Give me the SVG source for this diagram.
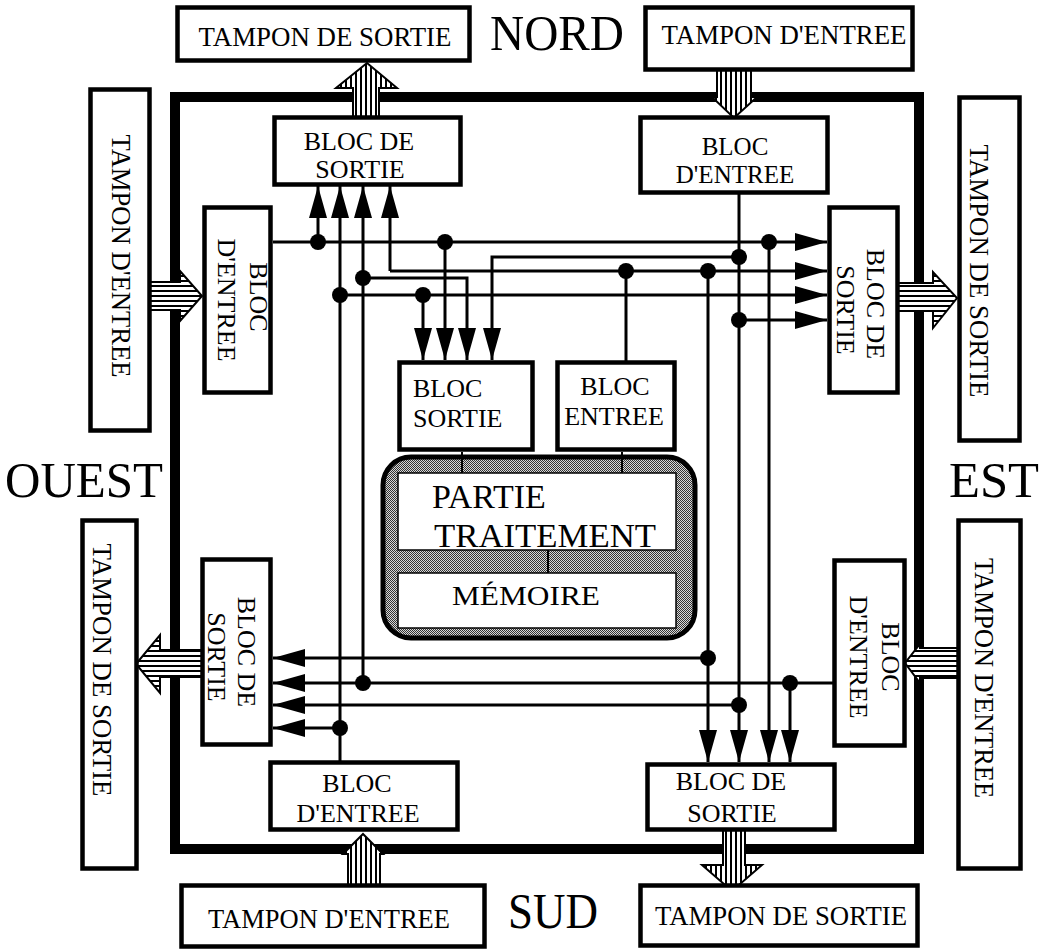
<svg xmlns="http://www.w3.org/2000/svg" width="1044" height="950" viewBox="0 0 1044 950">
<style>
.t{font-family:"Liberation Serif","Times New Roman",serif;fill:#000}
.f27{font-size:27px}
.f26{font-size:26px}
.big{font-size:50px}
.box{fill:#fff;stroke:#000;stroke-width:4.5}
.w{fill:none;stroke:#000;stroke-width:3}
.wa{fill:none;stroke:#000;stroke-width:3;marker-end:url(#ah)}
.dot{fill:#000}
.bv{fill:url(#vs);stroke:#000;stroke-width:2}
.bh{fill:url(#hs);stroke:#000;stroke-width:2}
</style>
<defs>
<marker id="ah" markerWidth="32" markerHeight="18" refX="32" refY="9" orient="auto" markerUnits="userSpaceOnUse"><path d="M0,0 L32,9 L0,18 Z" fill="#000"/></marker>
<pattern id="vs" width="5" height="10" patternUnits="userSpaceOnUse"><rect width="5" height="10" fill="#fff"/><rect width="2" height="10" fill="#000"/></pattern>
<pattern id="hs" width="10" height="5" patternUnits="userSpaceOnUse"><rect width="10" height="5" fill="#fff"/><rect width="10" height="2" fill="#000"/></pattern>
<pattern id="stip" width="2" height="2" patternUnits="userSpaceOnUse"><rect width="2" height="2" fill="#d8d8d8"/><rect width="1" height="1" fill="#333"/><rect x="1" y="1" width="1" height="1" fill="#333"/></pattern>
</defs>
<rect width="1044" height="950" fill="#fff"/>

<g id="frame"><rect x="175" y="97" width="744" height="752" fill="none" stroke="#000" stroke-width="10"/></g>

<g id="labels">
<text class="t big" x="490" y="50" textLength="134" lengthAdjust="spacingAndGlyphs">NORD</text>
<text class="t big" x="5" y="497" textLength="158" lengthAdjust="spacingAndGlyphs">OUEST</text>
<text class="t big" x="949" y="497" textLength="90" lengthAdjust="spacingAndGlyphs">EST</text>
<text class="t big" x="508" y="928" textLength="90" lengthAdjust="spacingAndGlyphs">SUD</text>
</g>

<g id="broad-arrows">
<polygon class="bv" points="353,117 353,88 336,88 367,63 397,88 379,88 379,117"/>
<polygon class="bv" points="717,70 717,97 712,97 734,118 757,97 751,97 751,70"/>
<polygon class="bh" points="150,282 180,282 180,271 202,296 180,321 180,310 150,310"/>
<polygon class="bh" points="898,283 933,283 933,272 957,298 933,328 933,311 898,311"/>
<polygon class="bh" points="202,650 160,650 160,635 136,664 160,693 160,677 202,677"/>
<polygon class="bh" points="958,648 920,648 920,644 905,663 920,683 920,678 958,678"/>
<polygon class="bv" points="348,885 348,854 343,854 363,834 383,854 380,854 380,885"/>
<polygon class="bv" points="723,830 723,865 702,865 732,891 762,865 745,865 745,830"/>
</g>

<g id="tampon-n-sortie"><rect class="box" x="177.5" y="7.5" width="292" height="53"/><text class="t f27" x="325" y="46" text-anchor="middle" textLength="253" lengthAdjust="spacingAndGlyphs">TAMPON DE SORTIE</text></g>
<g id="tampon-n-entree"><rect class="box" x="645.5" y="7.5" width="267" height="62"/><text class="t f27" x="784" y="44" text-anchor="middle" textLength="245" lengthAdjust="spacingAndGlyphs">TAMPON D'ENTREE</text></g>
<g id="tampon-o-entree"><rect class="box" x="90.5" y="89.5" width="59" height="341"/><text class="t f27" transform="translate(112,256) rotate(90)" text-anchor="middle" textLength="243" lengthAdjust="spacingAndGlyphs">TAMPON D'ENTREE</text></g>
<g id="tampon-e-sortie"><rect class="box" x="959.5" y="97.5" width="60" height="343"/><text class="t f27" transform="translate(970,271) rotate(90)" text-anchor="middle" textLength="253" lengthAdjust="spacingAndGlyphs">TAMPON DE SORTIE</text></g>
<g id="tampon-o-sortie"><rect class="box" x="82.5" y="520.5" width="54" height="348"/><text class="t f27" transform="translate(93,670) rotate(90)" text-anchor="middle" textLength="253" lengthAdjust="spacingAndGlyphs">TAMPON DE SORTIE</text></g>
<g id="tampon-e-entree"><rect class="box" x="958.5" y="520.5" width="62" height="348"/><text class="t f27" transform="translate(975,678) rotate(90)" text-anchor="middle" textLength="240" lengthAdjust="spacingAndGlyphs">TAMPON D'ENTREE</text></g>
<g id="tampon-s-entree"><rect class="box" x="181.5" y="885.5" width="303" height="61"/><text class="t f27" x="329" y="928" text-anchor="middle" textLength="242" lengthAdjust="spacingAndGlyphs">TAMPON D'ENTREE</text></g>
<g id="tampon-s-sortie"><rect class="box" x="640.5" y="885.5" width="277" height="60"/><text class="t f27" x="781" y="925" text-anchor="middle" textLength="252" lengthAdjust="spacingAndGlyphs">TAMPON DE SORTIE</text></g>

<g id="bloc-n-sortie"><rect class="box" x="274.5" y="117.5" width="186" height="67"/><text class="t f26" x="359" y="150" text-anchor="middle">BLOC DE</text><text class="t f26" x="360" y="178" text-anchor="middle">SORTIE</text></g>
<g id="bloc-n-entree"><rect class="box" x="640.5" y="117.5" width="187" height="75"/><text class="t" style="font-size:25px" x="735" y="155" text-anchor="middle">BLOC</text><text class="t" style="font-size:25px" x="735" y="183" text-anchor="middle">D'ENTREE</text></g>
<g id="bloc-o-entree"><rect class="box" x="204.5" y="207.5" width="66" height="185"/><text class="t f26" transform="translate(250,297) rotate(90)" text-anchor="middle">BLOC</text><text class="t f26" transform="translate(218,300) rotate(90)" text-anchor="middle">D'ENTREE</text></g>
<g id="bloc-e-sortie"><rect class="box" x="829.5" y="207.5" width="68" height="185"/><text class="t f26" transform="translate(867,304) rotate(90)" text-anchor="middle">BLOC DE</text><text class="t f26" transform="translate(837,310) rotate(90)" text-anchor="middle">SORTIE</text></g>
<g id="bloc-o-sortie"><rect class="box" x="202.5" y="559.5" width="68" height="185"/><text class="t f26" transform="translate(238,652) rotate(90)" text-anchor="middle">BLOC DE</text><text class="t f26" transform="translate(208,657) rotate(90)" text-anchor="middle">SORTIE</text></g>
<g id="bloc-e-entree"><rect class="box" x="834.5" y="560.5" width="70" height="185"/><text class="t f26" transform="translate(882,657) rotate(90)" text-anchor="middle">BLOC</text><text class="t f26" transform="translate(850,657) rotate(90)" text-anchor="middle">D'ENTREE</text></g>
<g id="bloc-s-entree"><rect class="box" x="270.5" y="762.5" width="187" height="67"/><text class="t f26" x="357" y="792" text-anchor="middle">BLOC</text><text class="t f26" x="358" y="822" text-anchor="middle">D'ENTREE</text></g>
<g id="bloc-s-sortie"><rect class="box" x="647.5" y="764.5" width="187" height="65"/><text class="t f26" x="731" y="790" text-anchor="middle">BLOC DE</text><text class="t f26" x="732" y="822" text-anchor="middle">SORTIE</text></g>

<g id="processeur">
<rect x="383" y="457" width="312" height="181" rx="28" fill="url(#stip)" stroke="#000" stroke-width="5"/>
<rect x="398" y="473" width="278" height="77" fill="#fff" stroke="#000" stroke-width="1.5"/>
<rect x="398" y="573" width="278" height="55" fill="#fff" stroke="#000" stroke-width="1.5"/>
<line x1="548" y1="550" x2="548" y2="573" stroke="#000" stroke-width="2"/>
<text class="t" style="font-size:34px" x="432" y="508">PARTIE</text>
<text class="t" style="font-size:34px" x="434" y="547" textLength="222" lengthAdjust="spacingAndGlyphs">TRAITEMENT</text>
<text class="t" style="font-size:28px" x="526" y="605" text-anchor="middle" textLength="148" lengthAdjust="spacingAndGlyphs">MÉMOIRE</text>
</g>
<g id="bloc-sortie"><rect class="box" x="399.5" y="362.5" width="133" height="87"/><text class="t f26" x="413" y="397">BLOC</text><text class="t f26" x="413" y="427">SORTIE</text></g>
<g id="bloc-entree"><rect class="box" x="557.5" y="362.5" width="117" height="87"/><text class="t f26" x="615" y="395" text-anchor="middle">BLOC</text><text class="t f26" x="614" y="425" text-anchor="middle">ENTREE</text></g>

<g id="connectors">
<line x1="462" y1="452" x2="462" y2="473" stroke="#000" stroke-width="2"/>
<line x1="622" y1="452" x2="622" y2="473" stroke="#000" stroke-width="2"/>
<path class="wa" d="M273,242 H827"/>
<path class="wa" d="M318,242 V186"/>
<path class="wa" d="M445,242 V360"/>
<path class="wa" d="M769,242 V762"/>
<path class="wa" d="M340,762 V186"/>
<path class="wa" d="M340,295 H827"/>
<path class="wa" d="M423,295 V360"/>
<path class="wa" d="M340,728 H273"/>
<path class="wa" d="M834,683 H273"/>
<path class="wa" d="M363,683 V186"/>
<path class="wa" d="M363,278 H467 V360"/>
<path class="wa" d="M790,683 V762"/>
<path class="wa" d="M739,194 V762"/>
<path class="wa" d="M739,257 H492 V360"/>
<path class="wa" d="M739,320 H827"/>
<path class="wa" d="M739,705 H273"/>
<path class="w" d="M626,362 V271"/>
<path class="wa" d="M390,271 H827"/>
<path class="wa" d="M390,271 V186"/>
<path class="wa" d="M708,271 V762"/>
<path class="wa" d="M708,658 H273"/>
<g class="dot">
<circle cx="318" cy="242" r="8"/><circle cx="445" cy="242" r="8"/><circle cx="769" cy="242" r="8"/>
<circle cx="340" cy="295" r="8"/><circle cx="423" cy="295" r="8"/><circle cx="340" cy="728" r="8"/>
<circle cx="363" cy="683" r="8"/><circle cx="363" cy="278" r="8"/><circle cx="790" cy="683" r="8"/>
<circle cx="739" cy="257" r="8"/><circle cx="739" cy="320" r="8"/><circle cx="739" cy="705" r="8"/>
<circle cx="626" cy="271" r="8"/><circle cx="708" cy="271" r="8"/><circle cx="708" cy="658" r="8"/>
</g>
</g>
</svg>
